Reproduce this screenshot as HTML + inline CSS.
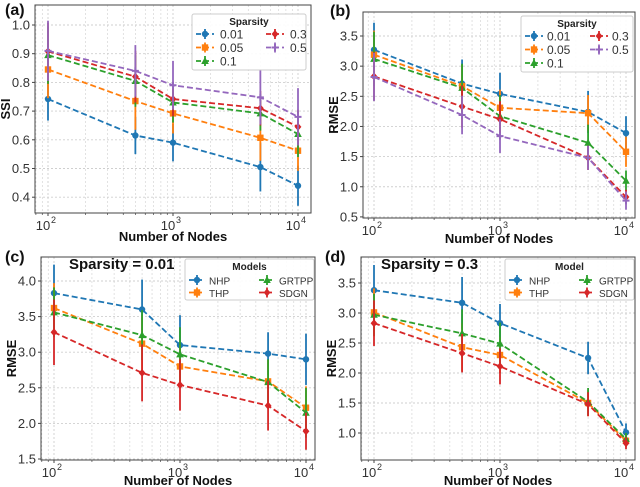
<!DOCTYPE html>
<html><head><meta charset="utf-8">
<style>
body{margin:0;background:#fff;}
svg{display:block;font-family:"Liberation Sans","DejaVu Sans",sans-serif;}
</style></head>
<body>
<svg id="fig" width="640" height="487" viewBox="0 0 640 487"></svg>
<script>
const xVals=[100,500,1000,5000,10000];
const colors=['#1f77b4','#ff7f0e','#2ca02c','#d62728','#9467bd'];
const sparsityNames=['0.01','0.05','0.1','0.3','0.5'];
const modelNames=['NHP','THP','GRTPP','SDGN'];
// panel a: SSI
const aMeans=[[.742,.615,.59,.505,.44],[.845,.735,.692,.607,.562],[.895,.805,.73,.692,.62],[.908,.82,.742,.71,.645],[.91,.84,.79,.748,.68]];
const aErrs=[[.075,.065,.065,.085,.07],[.1,.1,.07,.08,.07],[.1,.09,.07,.06,.08],[.1,.09,.06,.06,.06],[.105,.09,.085,.095,.1]];
const aTicks=[0.4,0.5,0.6,0.7,0.8,0.9,1.0];
// panel b
const bMeans=[[3.27,2.71,2.54,2.24,1.89],[3.19,2.67,2.31,2.22,1.58],[3.12,2.64,2.17,1.73,1.1],[2.83,2.33,2.12,1.48,.83],[2.82,2.19,1.84,1.48,.77]];
const bErrs=[[.45,.4,.35,.35,.28],[.4,.35,.3,.3,.25],[.45,.4,.35,.3,.17],[.4,.35,.3,.2,.12],[.4,.32,.28,.2,.15]];
const bTicks=[0.5,1.0,1.5,2.0,2.5,3.0,3.5];
// panel c
const cMeans=[[3.83,3.6,3.1,2.98,2.9],[3.62,3.12,2.8,2.59,2.22],[3.56,3.24,2.97,2.58,2.15],[3.28,2.71,2.54,2.25,1.89]];
const cErrs=[[.4,.42,.42,.3,.36],[.35,.4,.3,.3,.3],[.35,.35,.38,.32,.35],[.46,.4,.36,.35,.26]];
const cTicks=[1.5,2.0,2.5,3.0,3.5,4.0];
// panel d
const dMeans=[[3.38,3.17,2.83,2.25,1.01],[3.01,2.43,2.3,1.5,.87],[2.97,2.66,2.49,1.52,.9],[2.83,2.33,2.11,1.48,.83]];
const dErrs=[[.42,.43,.32,.27,.15],[.4,.4,.3,.22,.1],[.35,.4,.35,.23,.1],[.38,.32,.3,.2,.1]];
const dTicks=[1.0,1.5,2.0,2.5,3.0,3.5];

const NS='http://www.w3.org/2000/svg';
const svg=document.getElementById('fig');
function mk(tag,attrs,parent,text){const e=document.createElementNS(NS,tag);for(const k in attrs)e.setAttribute(k,attrs[k]);if(text!==undefined)e.textContent=text;(parent||svg).appendChild(e);return e;}

function marker(g,shape,x,y,c){
  let e;
  if(shape==0)e=mk('circle',{cx:x,cy:y,r:3.2,fill:c},g);
  else if(shape==1)e=mk('rect',{x:x-3.2,y:y-3.2,width:6.4,height:6.4,fill:c},g);
  else if(shape==2)e=mk('path',{d:`M${x},${y-4}L${x+3.8},${y+3}L${x-3.8},${y+3}Z`,fill:c},g);
  else if(shape==3)e=mk('path',{d:`M${x},${y-4}L${x+3.4},${y}L${x},${y+4}L${x-3.4},${y}Z`,fill:c},g);
  else e=mk('path',{d:`M${x-3.5},${y}H${x+3.5}M${x},${y-3.5}V${y+3.5}`,stroke:c,'stroke-width':2},g);
  return e;
}

function panel(p){
  const g=mk('g',{});
  
  
  const L=p.box[0],R=p.box[1],T=p.box[2],B=p.box[3];
  const xs=v=>p.x100+(Math.log10(v)-2)*p.dec;
  const ys=v=>p.y0-(v-p.v0)*p.pxPer;
  const grid=mk('g',{},g);
  
  
  for(let d=1;d<=4;d++)for(let m=1;m<10;m++){
    const v=m*Math.pow(10,d);const x=xs(v);
    if(x<L||x>R)continue;
    mk('line',{x1:x,x2:x,y1:T,y2:B,stroke:'#cfcfcf','stroke-width':m==1?0.9:0.6,'stroke-dasharray':'2,2'},grid);
  }
  p.ticks.forEach(t=>{const y=ys(t);mk('line',{x1:L,x2:R,y1:y,y2:y,stroke:'#cfcfcf','stroke-width':0.9,'stroke-dasharray':'2,2'},grid);});
  const fr=mk('rect',{x:L,y:T,width:R-L,height:B-T,fill:'none',stroke:'#444','stroke-width':1},g);
  
  
  p.ticks.forEach(t=>{const y=ys(t);
    mk('line',{x1:L-3,x2:L,y1:y,y2:y,stroke:'#444'},g);
    const tx=mk('text',{x:L-5,y:y+4.5,'text-anchor':'end','font-size':13,fill:'#333'},g,t.toFixed(1));
    
    
  });
  [2,3,4].forEach(e=>{const x=xs(Math.pow(10,e));
    mk('line',{x1:x,x2:x,y1:B,y2:B+3,stroke:'#444'},g);
    const tx=mk('text',{x:x-5,y:B+17,'text-anchor':'middle','font-size':13,fill:'#333'},g,'10');
    
    
    mk('text',{x:x+3,y:B+10,'font-size':9,fill:'#333'},g,String(e));
  });
  for(let d=1;d<=4;d++)for(let m=2;m<10;m++){const x=xs(m*Math.pow(10,d));if(x<L||x>R)continue;mk('line',{x1:x,x2:x,y1:B,y2:B+2,stroke:'#444','stroke-width':0.7},g);}
  const yl=mk('text',{x:0,y:0,transform:`translate(${L-25},${(T+B)/2}) rotate(-90)`,'text-anchor':'middle','font-size':13,'font-weight':'bold',fill:'#111'},g,p.ylabel);
  
  
  const xl=mk('text',{x:(L+R)/2,y:p.xlabelY,'text-anchor':'middle','font-size':13,'font-weight':'bold',fill:'#111'},g,'Number of Nodes');
  
  
  const pl=mk('text',{x:p.plab[0],y:p.plab[1],'font-size':16,'font-weight':'bold',fill:'#111'},g,'('+p.id+')');
  
  
  if(p.title){const tt=mk('text',{x:p.title[0],y:p.title[1],'font-size':15,'font-weight':'bold',fill:'#111'},g,p.title[2]);
    
    }
  p.means.forEach((ser,i)=>{
    const c=colors[i];const sg=mk('g',{},g);
    
    
    ser.forEach((v,j)=>{const x=xs(xVals[j]);mk('line',{x1:x,x2:x,y1:ys(v-p.errs[i][j]),y2:ys(v+p.errs[i][j]),stroke:c,'stroke-width':1.8},sg);});
    mk('polyline',{points:ser.map((v,j)=>xs(xVals[j])+','+ys(v)).join(' '),fill:'none',stroke:c,'stroke-width':1.8,'stroke-dasharray':'6,3'},sg);
    ser.forEach((v,j)=>{const m=marker(sg,i,xs(xVals[j]),ys(v),c);
      
      });
  });
  const lg=p.leg;const lgg=mk('g',{},g);
  
  
  mk('rect',{x:lg.x,y:lg.y,width:lg.w,height:lg.h,fill:'#fff','fill-opacity':0.9,stroke:'#ccc',rx:2},lgg);
  mk('text',{x:lg.x+lg.w/2,y:lg.y+11,'text-anchor':'middle','font-size':10,'font-weight':'bold',fill:'#222'},lgg,lg.title);
  p.names.forEach((n,i)=>{
    const col=i<lg.rows?0:1,row=i<lg.rows?i:i-lg.rows;
    const lx=lg.x+4+col*lg.colW,ly=lg.y+lg.r0+row*lg.rh,c=colors[i];
    const eg=mk('g',{},lgg);
    
    
    mk('line',{x1:lx,x2:lx+lg.lw,y1:ly,y2:ly,stroke:c,'stroke-width':1.8,'stroke-dasharray':'5,3'},eg);
    mk('line',{x1:lx+lg.lw/2,x2:lx+lg.lw/2,y1:ly-5,y2:ly+5,stroke:c,'stroke-width':1.8},eg);
    marker(eg,i,lx+lg.lw/2,ly,c);
    mk('text',{x:lx+lg.to,y:ly+4.5,'font-size':lg.fs,fill:'#333'},eg,n);
  });
}

panel({id:'a',box:[35,311,5,213],x100:48,dec:125,y0:25,v0:1.0,pxPer:287,ticks:aTicks,means:aMeans,errs:aErrs,names:sparsityNames,ylabel:'SSI',xlabelY:241,plab:[5,15],
  leg:{x:192,y:14,w:114,h:56,title:'Sparsity',rows:3,colW:70,r0:20,rh:13.5,fs:12,lw:18,to:24}});
panel({id:'b',box:[363,635,12,218],x100:374,dec:126,y0:36,v0:3.5,pxPer:60.3,ticks:bTicks,means:bMeans,errs:bErrs,names:sparsityNames,ylabel:'RMSE',xlabelY:243,plab:[330,16],
  leg:{x:521,y:16,w:112,h:56,title:'Sparsity',rows:3,colW:65,r0:20,rh:13.5,fs:12,lw:18,to:22}});
panel({id:'c',box:[41,315,257,460],x100:54,dec:126,y0:281,v0:4.0,pxPer:71.2,ticks:cTicks,means:cMeans,errs:cErrs,names:modelNames,ylabel:'RMSE',xlabelY:485,plab:[5,262],title:[69,269,'Sparsity = 0.01'],
  leg:{x:185,y:259,w:129,h:41,title:'Models',rows:2,colW:70,r0:21,rh:12.5,fs:10,lw:16,to:20}});
panel({id:'d',box:[361,635,257,460],x100:374,dec:126,y0:283,v0:3.5,pxPer:60,ticks:dTicks,means:dMeans,errs:dErrs,names:modelNames,ylabel:'RMSE',xlabelY:485,plab:[325,262],title:[381,269,'Sparsity = 0.3'],
  leg:{x:505,y:259,w:129,h:41,title:'Model',rows:2,colW:70,r0:21,rh:12.5,fs:10,lw:16,to:20}});
</script>
</body></html>
